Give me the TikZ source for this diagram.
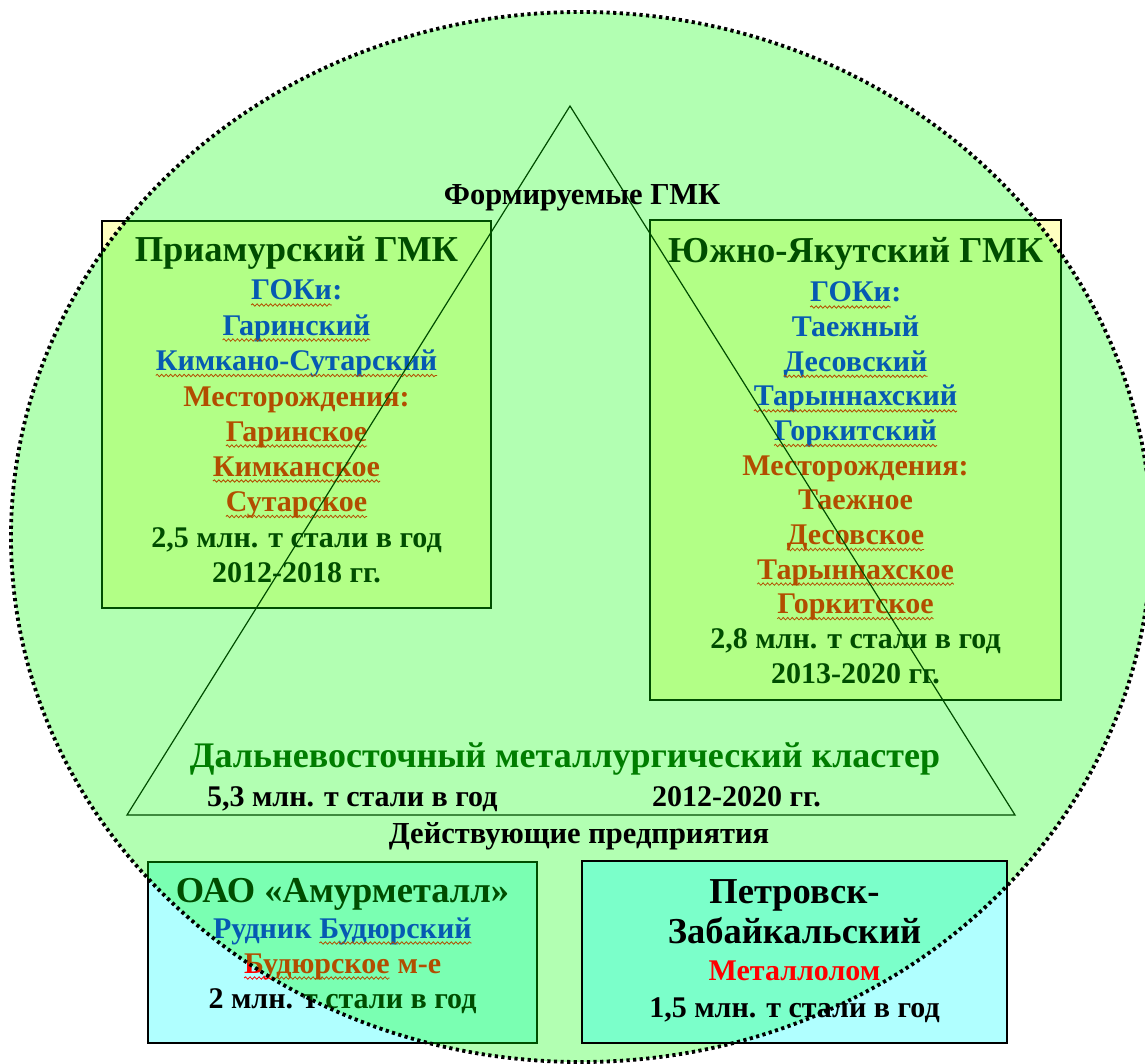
\documentclass[tikz,border=0pt]{standalone}
\usepackage{fontspec}
\setmainfont{Liberation Serif}
\usetikzlibrary{decorations.pathmorphing}
\definecolor{boxyellow}{RGB}{255,255,192}
\definecolor{boxcyan}{RGB}{176,255,255}
\definecolor{ovgreen}{RGB}{0,255,0}
\definecolor{ovcyan}{RGB}{0,255,255}
\definecolor{clustergreen}{RGB}{0,125,0}
\definecolor{gokblue}{RGB}{10,20,255}
\definecolor{depred}{RGB}{255,0,0}
\newcommand\fsz[1]{\fontsize{#1}{#1}\selectfont}
\tikzset{
  ln/.style={inner sep=0pt, outer sep=0pt, anchor=base, font=\bfseries\fsz{30}},
  ttl/.style={ln, font=\bfseries\fsz{36.5}},
  wave/.style={draw=red, line width=0.8pt, decorate,
    decoration={snake, amplitude=1.2pt, segment length=4.5pt}},
  boxbg/.style={draw=black, line width=1.4pt, anchor=north west, inner sep=0pt, outer sep=0pt},
}
\newcommand\wv[1]{\tikz[baseline=(w.base)]{\node[inner sep=0pt,outer sep=0pt,anchor=base] (w) {#1};
  \draw[wave] ([yshift=-5pt]w.base west) -- ([yshift=-5pt]w.base east);}}
\begin{document}
\begin{tikzpicture}[x=1pt,y=-1pt]
\useasboundingbox (0,0) rectangle (1145,1064);
% boxes under the green overlay
\node[boxbg, fill=boxyellow, minimum width=389pt, minimum height=387pt] (boxA) at (102,221) {};
\node[boxbg, fill=boxyellow, minimum width=411pt, minimum height=480pt] (boxB) at (650,220) {};
\node[boxbg, fill=boxcyan, minimum width=389pt, minimum height=181pt] (boxC) at (148,862) {};
% Priamursky texts
\node[ttl] (a0) at (296.5,262) {Приамурский ГМК};
\node[ln, text=gokblue] (a1) at (296.5,300) {\wv{ГОКи}:};
\node[ln, text=gokblue] (a2) at (296.5,335) {\wv{Гаринский}};
\node[ln, text=gokblue] (a3) at (296.5,370.5) {\wv{Кимкано-Сутарский}};
\node[ln, text=depred] (a4) at (296.5,406) {Месторождения:};
\node[ln, text=depred] (a5) at (296.5,441) {\wv{Гаринское}};
\node[ln, text=depred] (a6) at (296.5,476) {\wv{Кимканское}};
\node[ln, text=depred] (a7) at (296.5,511.5) {\wv{Сутарское}};
\node[ln] (a8) at (296.5,547) {2,5 млн. т стали в год};
\node[ln] (a9) at (296.5,582) {2012-2018 гг.};
% South-Yakutsk texts
\node[ttl] (b0) at (855.5,263) {Южно-Якутский ГМК};
\node[ln, text=gokblue] (b1) at (855.5,302) {\wv{ГОКи}:};
\node[ln, text=gokblue] (b2) at (855.5,336.6) {Таежный};
\node[ln, text=gokblue] (b3) at (855.5,371.3) {\wv{Десовский}};
\node[ln, text=gokblue] (b4) at (855.5,405.9) {\wv{Тарыннахский}};
\node[ln, text=gokblue] (b5) at (855.5,440.5) {\wv{Горкитский}};
\node[ln, text=depred] (b6) at (855.5,475.2) {Месторождения:};
\node[ln, text=depred] (b7) at (855.5,509.8) {Таежное};
\node[ln, text=depred] (b8) at (855.5,544.5) {\wv{Десовское}};
\node[ln, text=depred] (b9) at (855.5,579.1) {\wv{Тарыннахское}};
\node[ln, text=depred] (b10) at (855.5,613.7) {\wv{Горкитское}};
\node[ln] (b11) at (855.5,648.4) {2,8 млн. т стали в год};
\node[ln] (b12) at (855.5,683) {2013-2020 гг.};
% Amurmetall texts
\node[ttl] (c0) at (342.5,902) {ОАО «Амурметалл»};
\node[ln, text=gokblue] (c1) at (342.5,938) {Рудник \wv{Будюрский}};
\node[ln, text=depred] (c2) at (342.5,973) {\wv{Будюрское} м-е};
\node[ln] (c3) at (342.5,1008) {2 млн. т стали в год};
% triangle
\coordinate (tA) at (570,106);
\coordinate (tB) at (127,815);
\coordinate (tC) at (1015,815);
\draw[black, line width=1.2pt, line join=miter] (tA) -- (tB) -- (tC) -- cycle;
% green overlay circle
\fill[ovgreen, fill opacity=0.3] (581,537) ellipse [x radius=570, y radius=525];
% Petrovsk box on top
\node[boxbg, fill=ovcyan, fill opacity=0.31, draw opacity=1, minimum width=425pt, minimum height=182pt] (boxD) at (582,861) {};
\node[ttl] (d0) at (794.5,903) {Петровск-};
\node[ttl] (d1) at (794.5,943) {Забайкальский};
\node[ln, text=depred] (d2) at (794.5,980) {Металлолом};
\node[ln] (d3) at (794.5,1017) {1,5 млн. т стали в год};
% labels on the circle
\node[ln, font=\bfseries\fsz{30.5}] (form) at (582,205) {Формируемые ГМК};
\node[ln, font=\bfseries\fsz{36}, text=clustergreen] (clus) at (565,767) {Дальневосточный металлургический кластер};
\node[ln, anchor=base west] (cap) at (207,806) {5,3 млн. т стали в год};
\node[ln, anchor=base west] (yrs) at (652,806) {2012-2020 гг.};
\node[ln, font=\bfseries\fsz{30.5}] (act) at (579,843) {Действующие предприятия};
% dotted border
\draw[black, line width=3.8pt, dash pattern=on 3.2pt off 3.4pt] (581,537) ellipse [x radius=570, y radius=525];
\end{tikzpicture}
\end{document}
